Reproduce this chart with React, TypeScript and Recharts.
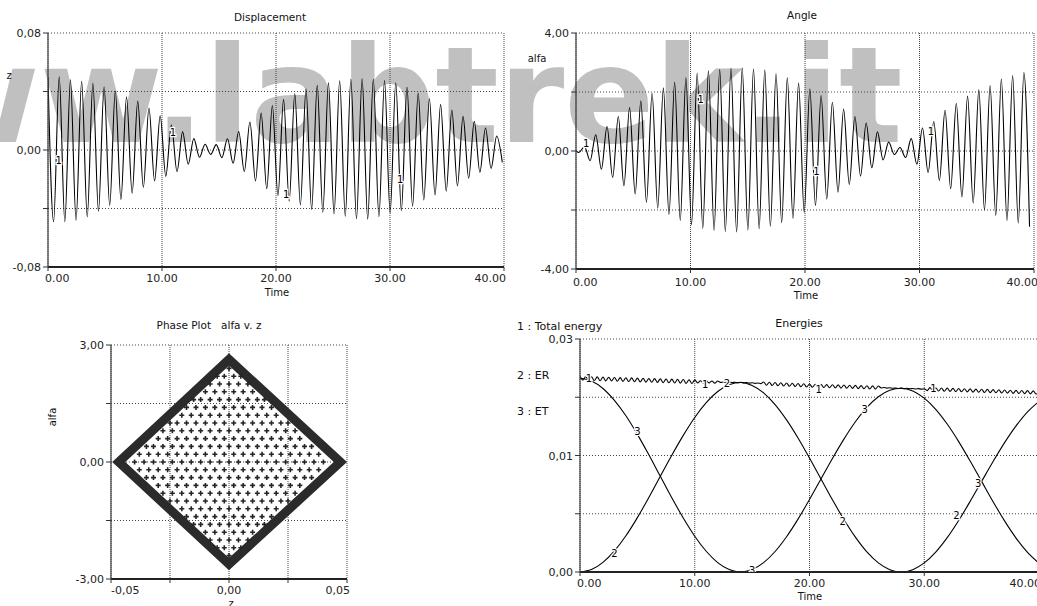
import React from 'react';
import { ComposedChart, Line, Scatter, XAxis, YAxis, CartesianGrid } from 'recharts';

const FONT = '"DejaVu Sans", Verdana, sans-serif';

// ---- shared time axis
const timeTicks = [0, 10, 20, 30, 40];
const PERIOD = 0.984; // oscillation period

// ---- Displacement (z): value of every peak and trough, one per cycle
const zPeaks = [
  0.05, 0.05, 0.048, 0.047, 0.0456, 0.0432, 0.0403, 0.0364, 0.0334, 0.0287,
  0.0234, 0.0171, 0.0124, 0.0078, 0.0039, 0.0037, 0.0077, 0.0126, 0.0191, 0.0252,
  0.0304, 0.0346, 0.0386, 0.0419, 0.0442, 0.0459, 0.0474, 0.0484, 0.0487, 0.0484,
  0.0475, 0.046, 0.043, 0.039, 0.0352, 0.0312, 0.0273, 0.023, 0.0196, 0.015,
  0.0096,
];
const zTroughs = [
  -0.049, -0.049, -0.048, -0.0457, -0.0418, -0.0379, -0.0339, -0.0296, -0.0256, -0.0212,
  -0.018, -0.0148, -0.0097, -0.005, -0.003, -0.0052, -0.009, -0.0147, -0.0211, -0.0265,
  -0.0312, -0.035, -0.0376, -0.0407, -0.0426, -0.0437, -0.0452, -0.0469, -0.0472, -0.0455,
  -0.043, -0.0415, -0.0385, -0.0342, -0.0308, -0.0281, -0.0245, -0.0193, -0.0152, -0.0125,
  -0.0085,
];
const zTicks = [-0.08, -0.04, 0, 0.04, 0.08];
const zLabelled = [-0.08, 0, 0.08];
const zCurveLabels = [
  { t: 0.93, v: -0.007 },
  { t: 10.95, v: 0.012 },
  { t: 20.9, v: -0.03 },
  { t: 30.9, v: -0.02 },
];

// ---- Angle (alfa)
const ALFA_FIRST_TROUGH = 0.25;
const alfaStart = 0;
const alfaTroughs = [
  -0.05, -0.33, -0.62, -0.9, -1.18, -1.46, -1.74, -1.94, -2.15, -2.35,
  -2.5, -2.62, -2.69, -2.73, -2.74, -2.68, -2.63, -2.55, -2.43, -2.28,
  -2.08, -1.85, -1.63, -1.4, -1.13, -0.85, -0.57, -0.3, -0.12, -0.22,
  -0.45, -0.73, -1.0, -1.28, -1.56, -1.76, -2.0, -2.18, -2.35, -2.44,
  -2.57,
];
const alfaPeaks = [
  0.15, 0.55, 0.83, 1.17, 1.47, 1.7, 1.96, 2.14, 2.33, 2.48,
  2.63, 2.72, 2.76, 2.8, 2.81, 2.78, 2.74, 2.62, 2.48, 2.3,
  2.11, 1.88, 1.65, 1.42, 1.17, 0.95, 0.65, 0.3, 0.12, 0.42,
  0.78, 1.0, 1.38, 1.62, 1.86, 2.08, 2.22, 2.44, 2.56, 2.66,
];
const alfaTicks = [-4, -2, 0, 2, 4];
const alfaLabelled = [-4, 0, 4];
const alfaCurveLabels = [
  { t: 0.9, v: 0.28 },
  { t: 10.9, v: 1.75 },
  { t: 21.0, v: -0.68 },
  { t: 31.0, v: 0.68 },
];

// ---- Phase plot alfa v. z
const phaseXTicks = [-0.05, -0.025, 0, 0.025, 0.05];
const phaseXLabelled = [-0.05, 0, 0.05];
const phaseYTicks = [-3, -1.5, 0, 1.5, 3];
const phaseYLabelled = [-3, 0, 3];
// dense outer band of the point cloud (centre line of the band)
const phaseOutline = [
  { z: -0.02335, alfa: 1.315 },
  { z: 0, alfa: 2.63 },
  { z: 0.0472, alfa: 0 },
  { z: 0, alfa: -2.62 },
  { z: -0.0467, alfa: 0 },
  { z: -0.02335, alfa: 1.315 },
];
// inner points, rows of alfa, z given in thousandths
const phaseRows = [
  { alfa: [0], z: [-40, -36, -32, -28, -24, -20, -16, -12, -8, -4, 0, 4, 8, 12, 16, 20, 24, 28, 32, 36, 40] },
  { alfa: [0.2, -0.2], z: [-38, -34, -30, -26, -22, -18, -14, -10, -6, -2, 2, 6, 10, 14, 18, 22, 26, 30, 34, 38] },
  { alfa: [0.4, -0.4], z: [-35, -32, -28, -24, -20, -16, -12, -8, -4, 0, 4, 8, 12, 16, 20, 24, 28, 32, 35] },
  { alfa: [0.6, -0.6], z: [-30, -26, -22, -18, -14, -10, -6, -2, 2, 6, 10, 14, 18, 22, 26, 30] },
  { alfa: [0.8, -0.8], z: [-28, -24, -20, -16, -12, -8, -4, 0, 4, 8, 12, 16, 20, 24, 28] },
  { alfa: [1.0, -1.0], z: [-25, -22, -18, -14, -10, -6, -2, 2, 6, 10, 14, 18, 22, 25] },
  { alfa: [1.2, -1.2], z: [-20, -16, -12, -8, -4, 0, 4, 8, 12, 16, 20] },
  { alfa: [1.4, -1.4], z: [-18, -14, -10, -6, -2, 2, 6, 10, 14, 18] },
  { alfa: [1.6, -1.6], z: [-15, -12, -8, -4, 0, 4, 8, 12, 15] },
  { alfa: [1.8, -1.8], z: [-10, -6, -2, 2, 6, 10] },
  { alfa: [2.0, -2.0], z: [-8, -4, 0, 4, 8] },
  { alfa: [2.2, -2.2], z: [-5, -2, 2, 5] },
  { alfa: [2.4, -2.4], z: [0] },
];

// ---- Energies
const TOTAL_STEP = 0.25;
const totalEnergy = [
  0.02519, 0.0247, 0.02517, 0.02468, 0.02514, 0.02465, 0.02512, 0.02463, 0.0251, 0.02461,
  0.02508, 0.02459, 0.02505, 0.02456, 0.02503, 0.02454, 0.02501, 0.02452, 0.02499, 0.0245,
  0.02496, 0.02447, 0.02494, 0.02445, 0.02492, 0.02443, 0.0249, 0.02441, 0.02487, 0.02438,
  0.02485, 0.02436, 0.02483, 0.02434, 0.02481, 0.02432, 0.02478, 0.02429, 0.02476, 0.02427,
  0.02474, 0.02435, 0.02463, 0.02434, 0.02462, 0.02433, 0.0246, 0.02432, 0.02459, 0.02441,
  0.02447, 0.0244, 0.02446, 0.02439, 0.02444, 0.02438, 0.02443, 0.02435, 0.0244, 0.02432,
  0.02436, 0.02429, 0.02433, 0.02425, 0.02447, 0.02405, 0.02443, 0.02402, 0.0244, 0.02398,
  0.02437, 0.02395, 0.02433, 0.02392, 0.0243, 0.02388, 0.02427, 0.02385, 0.02423, 0.02382,
  0.0242, 0.02379, 0.02418, 0.02377, 0.02416, 0.02375, 0.02413, 0.02372, 0.02411, 0.0237,
  0.02409, 0.02368, 0.02407, 0.02366, 0.02405, 0.02364, 0.02403, 0.02361, 0.024, 0.02359,
  0.02398, 0.02357, 0.02396, 0.02355, 0.02394, 0.0237, 0.02375, 0.02368, 0.02372, 0.02365,
  0.0237, 0.02363, 0.02368, 0.02361, 0.02366, 0.02359, 0.02363, 0.02356, 0.02361, 0.02354,
  0.02359, 0.02335, 0.02374, 0.02332, 0.02371, 0.0233, 0.02369, 0.02328, 0.02367, 0.02326,
  0.02364, 0.02323, 0.02362, 0.02321, 0.0236, 0.02319, 0.02358, 0.02316, 0.02355, 0.02314,
  0.02353, 0.02312, 0.02351, 0.0231, 0.02348, 0.02307, 0.02346, 0.02305, 0.02344, 0.02303,
  0.02341, 0.023, 0.02339, 0.02298, 0.02337, 0.02296, 0.02335, 0.02293, 0.02332, 0.02291,
  0.0233,
];
// rotational (ER) and translational (ET) energy, one value per time unit
const er = [
  0, 0.00031, 0.00123, 0.00271, 0.00466, 0.007, 0.00959, 0.01232, 0.01503, 0.01759,
  0.01989, 0.0218, 0.02324, 0.02411, 0.0244, 0.02402, 0.02307, 0.02156, 0.01959, 0.01726,
  0.01467, 0.01198, 0.00929, 0.00676, 0.00449, 0.00259, 0.00118, 0.0003, 0, 0.0003,
  0.00117, 0.00256, 0.00442, 0.00663, 0.00909, 0.01167, 0.01423, 0.01666, 0.01882, 0.02062,
  0.02196,
];
const et = [
  0.02495, 0.02459, 0.02363, 0.0221, 0.02011, 0.01772, 0.01509, 0.01232, 0.00956, 0.00695,
  0.00461, 0.00267, 0.00121, 0.00031, 0, 0.00031, 0.0012, 0.00264, 0.00454, 0.00681,
  0.00933, 0.01198, 0.01462, 0.01711, 0.01934, 0.02119, 0.02256, 0.02339, 0.02365, 0.02331,
  0.02239, 0.02095, 0.01905, 0.01679, 0.01429, 0.01167, 0.00905, 0.00658, 0.00437, 0.00253,
  0.00114,
];
const energyTicks = [0, 0.0075, 0.015, 0.0225, 0.03];
const energyLabelled = [0, 0.015, 0.03];
const totalLabels = [
  { t: 0.77, v: 0.025 },
  { t: 10.9, v: 0.0242 },
  { t: 20.8, v: 0.0235 },
  { t: 30.8, v: 0.0237 },
];
const erLabels = [
  { t: 3.0, v: 0.00245 },
  { t: 12.8, v: 0.0243 },
  { t: 22.9, v: 0.0066 },
  { t: 32.8, v: 0.0074 },
];
const etLabels = [
  { t: 5.0, v: 0.0182 },
  { t: 15.0, v: 0.0003 },
  { t: 24.8, v: 0.021 },
  { t: 34.7, v: 0.0114 },
];

// ---- series built from the arrays above
const zData = zPeaks.flatMap((p, n) => [
  { t: n * PERIOD, v: p },
  { t: (n + 0.5) * PERIOD, v: zTroughs[n] },
]);
const alfaData = [
  { t: 0, v: alfaStart },
  ...alfaTroughs.flatMap((tr, n) => {
    const pts = [{ t: ALFA_FIRST_TROUGH + n * PERIOD, v: tr }];
    if (n < alfaPeaks.length) pts.push({ t: ALFA_FIRST_TROUGH + (n + 0.5) * PERIOD, v: alfaPeaks[n] });
    return pts;
  }),
];
const phasePoints = phaseRows.flatMap((r) =>
  r.alfa.flatMap((a) => r.z.map((zm) => ({ z: zm / 1000, alfa: a })))
);
const totalData = totalEnergy.map((v, i) => ({ t: i * TOTAL_STEP, v }));
const erData = er.map((v, i) => ({ t: i, v }));
const etData = et.map((v, i) => ({ t: i, v }));

// ---- helpers
const comma = (v: number) => v.toFixed(2).replace('.', ',');
const dot = (v: number) => v.toFixed(2);
const has = (list: number[], v: number) => list.some((l) => Math.abs(l - v) < 1e-9);

const yTick = (labelled: number[]) => (props: any) => {
  const { x, y, payload } = props;
  if (!has(labelled, payload.value)) return <g />;
  return (
    <text x={x} y={y} dy={4} textAnchor="end" fontSize={11} fontFamily={FONT} fill="#222">
      {comma(payload.value)}
    </text>
  );
};

const xTick = (fmt: (v: number) => string, labelled: number[], dy: number, firstDx: number, lastDx: number) => (props: any) => {
  const { x, y, payload } = props;
  const v = payload.value;
  if (!has(labelled, v)) return <g />;
  const first = v === labelled[0];
  const last = v === labelled[labelled.length - 1];
  return (
    <text
      x={x + (first ? firstDx : last ? lastDx : 0)}
      y={y}
      dy={dy}
      textAnchor={first ? 'start' : last ? 'end' : 'middle'}
      fontSize={11}
      fontFamily={FONT}
      fill="#222"
    >
      {fmt(v)}
    </text>
  );
};

const curveLabel = (txt: string) => (props: any) => (
  <text
    x={props.cx}
    y={props.cy}
    dy={4}
    textAnchor="middle"
    fontSize={10}
    fontFamily={FONT}
    fill="#000"
    stroke="#fff"
    strokeWidth={2.5}
    paintOrder="stroke"
  >
    {txt}
  </text>
);

const phaseDot = (props: any) => (
  <path
    d={`M${props.cx - 2.5},${props.cy}h5M${props.cx},${props.cy - 2.5}v5`}
    stroke="#262626"
    strokeWidth={1.6}
  />
);

const Txt = ({ x, y, children, size = 10.5, start = false, rotate = 0 }: any) => (
  <div
    style={{
      position: 'absolute',
      left: x,
      top: y,
      transform: `translate(${start ? '0' : '-50%'}, -50%)${rotate ? ` rotate(${rotate}deg)` : ''}`,
      fontSize: size,
      fontFamily: FONT,
      whiteSpace: 'pre',
      lineHeight: 1,
      color: '#111',
    }}
  >
    {children}
  </div>
);

const gridH = <CartesianGrid vertical={false} stroke="#444" strokeDasharray="1 2" />;
const gridV = <CartesianGrid horizontal={false} stroke="#444" strokeDasharray="1 1" />;
const yAxisLine = { stroke: '#444', strokeWidth: 1.2 };
const xAxisLine = { stroke: '#222', strokeWidth: 2 };
const tickLine = { stroke: '#333' };

function Displacement() {
  return (
    <ComposedChart width={520} height={300} margin={{ top: 33, right: 16, bottom: 3, left: 0 }}>
      {gridH}
      {gridV}
      <XAxis type="number" dataKey="t" domain={[0, 40]} ticks={timeTicks} interval={0} allowDataOverflow
        height={30} tickSize={4} tickMargin={2} axisLine={xAxisLine} tickLine={tickLine}
        tick={xTick(dot, timeTicks, 9, -3, 2)} />
      <YAxis type="number" domain={[-0.08, 0.08]} ticks={zTicks} interval={0} allowDataOverflow
        width={48} tickSize={5} tickMargin={2} axisLine={yAxisLine} tickLine={tickLine} tick={yTick(zLabelled)} />
      <Line data={zData} dataKey="v" type="monotone" stroke="#000" strokeWidth={1.1} dot={false} isAnimationActive={false} />
      <Scatter data={zCurveLabels} dataKey="v" shape={curveLabel('1')} isAnimationActive={false} />
    </ComposedChart>
  );
}

function Angle() {
  return (
    <ComposedChart width={520} height={300} margin={{ top: 33, right: 3, bottom: 3, left: 0 }}>
      {gridH}
      {gridV}
      <XAxis type="number" dataKey="t" domain={[0, 40]} ticks={timeTicks} interval={0} allowDataOverflow
        height={28} tickSize={4} tickMargin={2} axisLine={xAxisLine} tickLine={tickLine}
        tick={xTick(dot, timeTicks, 10.5, -3, 4)} />
      <YAxis type="number" domain={[-4, 4]} ticks={alfaTicks} interval={0} allowDataOverflow
        width={59} tickSize={5} tickMargin={2} axisLine={yAxisLine} tickLine={tickLine} tick={yTick(alfaLabelled)} />
      <Line data={alfaData} dataKey="v" type="monotone" stroke="#000" strokeWidth={1.1} dot={false} isAnimationActive={false} />
      <Scatter data={alfaCurveLabels} dataKey="v" shape={curveLabel('1')} isAnimationActive={false} />
    </ComposedChart>
  );
}

function Phase() {
  return (
    <ComposedChart width={520} height={296} margin={{ top: 35, right: 173, bottom: 3, left: 0 }}>
      {gridH}
      {gridV}
      <XAxis type="number" dataKey="z" domain={[-0.05, 0.05]} ticks={phaseXTicks} interval={0} allowDataOverflow
        height={24} tickSize={4} tickMargin={2} axisLine={xAxisLine} tickLine={tickLine}
        tick={xTick(comma, phaseXLabelled, 9, 0, 3)} />
      <YAxis type="number" domain={[-3, 3]} ticks={phaseYTicks} interval={0} allowDataOverflow
        width={111} tickSize={5} tickMargin={2} axisLine={yAxisLine} tickLine={tickLine} tick={yTick(phaseYLabelled)} />
      <Line data={phaseOutline} dataKey="alfa" type="linear" stroke="#2b2b2b" strokeWidth={9}
        strokeLinejoin="miter" dot={false} isAnimationActive={false} />
      <Scatter data={phasePoints} dataKey="alfa" shape={phaseDot} isAnimationActive={false} />
    </ComposedChart>
  );
}

function Energies() {
  return (
    <ComposedChart width={522} height={296} margin={{ top: 29, right: 0, bottom: 3, left: 0 }}>
      {gridH}
      {gridV}
      <XAxis type="number" dataKey="t" domain={[0, 40]} ticks={timeTicks} interval={0} allowDataOverflow
        height={31} tickSize={4} tickMargin={2} axisLine={xAxisLine} tickLine={tickLine}
        tick={xTick(dot, timeTicks, 9, -3, 2)} />
      <YAxis type="number" domain={[0, 0.03]} ticks={energyTicks} interval={0} allowDataOverflow
        width={63} tickSize={5} tickMargin={2} axisLine={yAxisLine} tickLine={tickLine} tick={yTick(energyLabelled)} />
      <Line data={totalData} dataKey="v" type="monotone" stroke="#000" strokeWidth={1.1} dot={false} isAnimationActive={false} />
      <Line data={erData} dataKey="v" type="monotone" stroke="#000" strokeWidth={1.1} dot={false} isAnimationActive={false} />
      <Line data={etData} dataKey="v" type="monotone" stroke="#000" strokeWidth={1.1} dot={false} isAnimationActive={false} />
      <Scatter data={totalLabels} dataKey="v" shape={curveLabel('1')} isAnimationActive={false} />
      <Scatter data={erLabels} dataKey="v" shape={curveLabel('2')} isAnimationActive={false} />
      <Scatter data={etLabels} dataKey="v" shape={curveLabel('3')} isAnimationActive={false} />
    </ComposedChart>
  );
}

export default function App() {
  return (
    <div style={{ position: 'absolute', left: 0, top: 0, width: 1037, height: 606, overflow: 'hidden', background: '#fff' }}>
      <svg width={1037} height={606} style={{ position: 'absolute', left: 0, top: 0 }}>
        <text x={-206} y={142} fontFamily={FONT} fontWeight="bold" fontSize={133} fill="#c0c0c0">
          www.labtrek.it
        </text>
      </svg>
      <div style={{ position: 'absolute', left: 0, top: 0 }}><Displacement /></div>
      <div style={{ position: 'absolute', left: 517, top: 0 }}><Angle /></div>
      <div style={{ position: 'absolute', left: 0, top: 310 }}><Phase /></div>
      <div style={{ position: 'absolute', left: 517, top: 310 }}><Energies /></div>

      <Txt x={270} y={17}>Displacement</Txt>
      <Txt x={9} y={76} size={10}>z</Txt>
      <Txt x={277} y={293} size={10}>Time</Txt>

      <Txt x={802} y={15}>Angle</Txt>
      <Txt x={537} y={59} size={10}>alfa</Txt>
      <Txt x={806} y={296} size={10}>Time</Txt>

      <Txt x={209} y={325}>{'Phase Plot   alfa v. z'}</Txt>
      <Txt x={53} y={417} size={10} rotate={-90}>alfa</Txt>
      <Txt x={231} y={604} size={10}>z</Txt>

      <Txt x={799} y={323} size={11}>Energies</Txt>
      <Txt x={517} y={326} size={11} start>1 : Total energy</Txt>
      <Txt x={517} y={375} size={11} start>2 : ER</Txt>
      <Txt x={517} y={411} size={11} start>3 : ET</Txt>
      <Txt x={810} y={597} size={10}>Time</Txt>
    </div>
  );
}
